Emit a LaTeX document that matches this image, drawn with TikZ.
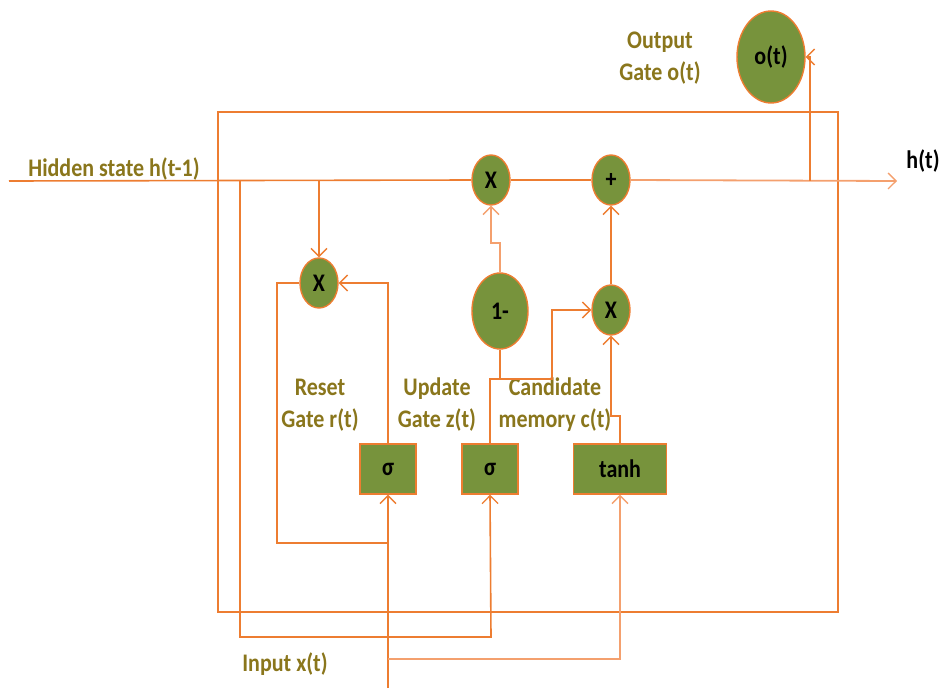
\documentclass[tikz,border=0pt]{standalone}
\usepackage{fontspec}
\setmainfont{Carlito}
\usetikzlibrary{shapes.geometric,arrows.meta}
\definecolor{lineor}{RGB}{237,125,49}
\definecolor{lightor}{RGB}{244,160,110}
\definecolor{olivefill}{RGB}{119,147,60}
\definecolor{labelcol}{RGB}{138,118,28}
\newcommand{\vstretch}[1]{\scalebox{1}[1.15]{#1}}
\begin{document}
\begin{tikzpicture}[x=1pt,y=-1pt,
  wire/.style={draw=lineor,line width=1.6pt},
  lwire/.style={draw=lightor,line width=1.8pt},
  tip/.style={-{Straight Barb[length=8pt,width=16pt,line width=1.3pt]}},
  opnode/.style={ellipse,draw=lineor,line width=1.4pt,fill=olivefill,inner sep=0pt,
    minimum width=38pt,minimum height=50pt,font=\fontsize{22}{26}\selectfont\bfseries},
  gatebox/.style={rectangle,draw=lineor,line width=1.4pt,fill=olivefill,inner sep=0pt,
    minimum width=56pt,minimum height=50pt,font=\fontsize{22}{26}\selectfont\bfseries},
  lbl/.style={text=labelcol,align=center,font=\fontsize{22}{32}\selectfont\bfseries},
  blk/.style={text=black,font=\fontsize{22}{26}\selectfont\bfseries}]
\useasboundingbox (0,0) rectangle (941,688);

% nodes
\node[opnode] (mz) at (491,180) {\vstretch{X}};
\node[opnode] (plus) at (611,180) {\vstretch{+}};
\node[opnode,minimum width=68pt,minimum height=92pt] (ot) at (771,57) {\vstretch{o(t)}};
\node[opnode] (mr) at (319,283) {\vstretch{X}};
\node[opnode,minimum width=56pt,minimum height=76pt] (onem) at (500,311) {\vstretch{1-}};
\node[opnode] (mc) at (611,310) {\vstretch{X}};
\node[gatebox] (sr) at (388,469) {\vstretch{σ}};
\node[gatebox] (sz) at (490,469) {\vstretch{σ}};
\node[gatebox,minimum width=93pt] (th) at (620,469) {\vstretch{tanh}};

% coordinates
\coordinate (hin) at (9,181);
\coordinate (hout) at (897,181);
\coordinate (jloop) at (240,181);
\coordinate (jr) at (319,181);
\coordinate (jo) at (810,181);
\coordinate (xin) at (388,688);
\coordinate (xt) at (388,659);
\coordinate (jz) at (500,379);

% labels
\node[lbl] (lh) at (114,169) {\vstretch{Hidden state h(t-1)}};
\node[blk] (lht) at (923,161) {\vstretch{h(t)}};
\node[lbl] (lo) at (660,58) {\vstretch{Output}\\\vstretch{Gate o(t)}};
\node[lbl] (lr) at (320,405) {\vstretch{Reset}\\\vstretch{Gate r(t)}};
\node[lbl] (lu) at (437,405) {\vstretch{Update}\\\vstretch{Gate z(t)}};
\node[lbl] (lc) at (555,405) {\vstretch{Candidate}\\\vstretch{memory c(t)}};
\node[lbl] (lx) at (285,664) {\vstretch{Input x(t)}};

% outer rectangle
\draw[wire] (218,112) rectangle (838,612);

% hidden state line
\draw[wire] (hin) -- (mz.west);
\draw[wire] (mz.east) -- (plus.west);
\draw[lwire,tip] (plus.east) -- (hout);

% loop from hidden state to update gate
\draw[wire,tip] (jloop) -- (240,637) -- (491,637) -- (sz.south);

% hidden state to reset multiply
\draw[wire,tip] (jr) -- (mr.north);

% reset gate output to reset multiply
\draw[wire,tip] (sr.north) |- (mr.east);

% reset multiply left loop
\draw[wire] (mr.west) -- (277,283) -- (277,543) -- (388,543);

% input x(t)
\draw[wire,tip] (xin) -- (sr.south);
\draw[lwire,tip] (xt) -- (620,659) -- (th.south);

% update gate outputs
\draw[wire] (sz.north) -- (490,379) -- (jz);
\draw[wire,tip] (jz) -- (552,379) -- (552,310) -- (mc.west);
\draw[wire] (onem.south) -- (jz);
\draw[lwire,tip] (onem.north) -- (500,243) -- (491,243) -- (mz.south);

% candidate memory
\draw[wire,tip] (th.north) -- (620,416) -- (611,416) -- (mc.south);
\draw[wire,tip] (mc.north) -- (plus.south);

% output gate
\draw[wire,tip] (jo) -- (810,57) -- (ot.east);
\end{tikzpicture}
\end{document}
